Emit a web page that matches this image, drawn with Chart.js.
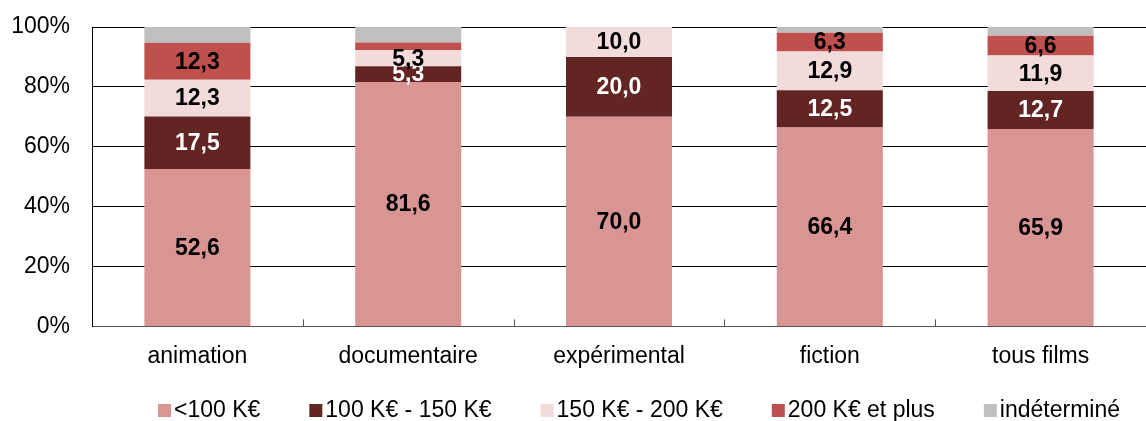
<!DOCTYPE html>
<html lang="fr">
<head>
<meta charset="utf-8">
<title>Répartition par tranche de coût</title>
<script src="https://cdn.jsdelivr.net/npm/chart.js@4/dist/chart.umd.min.js"></script>
<style>
  html, body { margin: 0; padding: 0; background: #fff; }
  #wrap { width: 1146px; height: 421px; }
</style>
</head>
<body>
<div id="wrap"><canvas id="chart" width="1146" height="421"></canvas></div>
<script>
// data (percent of films)
var categories = ['animation', 'documentaire', 'expérimental', 'fiction', 'tous films'];
var seriesNames = ['<100 K€', '100 K€ - 150 K€', '150 K€ - 200 K€', '200 K€ et plus', 'indéterminé'];
var under100 = [52.6, 81.6, 70.0, 66.4, 65.9];
var from100to150 = [17.5, 5.3, 20.0, 12.5, 12.7];
var from150to200 = [12.3, 5.3, 10.0, 12.9, 11.9];
var over200 = [12.3, 2.6, 0, 6.3, 6.6];
var undetermined = [5.3, 5.2, 0, 1.9, 2.9];
var yTicks = [0, 20, 40, 60, 80, 100];

var colors = ['#D99594', '#632523', '#F2DCDB', '#C0504D', '#BFBFBF'];
var labelColors = ['#000', '#fff', '#000', '#000', null];
var FONT = '"Liberation Sans", Arial, sans-serif';

var values = [under100, from100to150, from150to200, over200, undetermined];
var datasets = values.map(function (v, i) {
  return {
    label: seriesNames[i],
    data: v,
    backgroundColor: colors[i],
    borderWidth: 0,
    categoryPercentage: 1,
    barPercentage: 0.503
  };
});

// value labels inside the segments
var valueLabels = {
  id: 'valueLabels',
  afterDatasetsDraw: function (chart) {
    var ctx = chart.ctx;
    ctx.save();
    ctx.font = 'bold 23px ' + FONT;
    ctx.textAlign = 'center';
    ctx.textBaseline = 'middle';
    chart.data.datasets.forEach(function (ds, i) {
      if (!labelColors[i]) return;
      var meta = chart.getDatasetMeta(i);
      meta.data.forEach(function (bar, j) {
        var v = ds.data[j];
        if (v < 5) return;
        ctx.fillStyle = labelColors[i];
        ctx.fillText(v.toFixed(1).replace('.', ','), bar.x, (bar.y + bar.base) / 2 + 1);
      });
    });
    ctx.restore();
  }
};

// small tick marks between categories, pointing up from the axis
var catTicks = {
  id: 'catTicks',
  afterDraw: function (chart) {
    var x = chart.scales.x, area = chart.chartArea, ctx = chart.ctx;
    ctx.save();
    ctx.strokeStyle = '#555';
    ctx.lineWidth = 1;
    for (var i = 1; i < categories.length; i++) {
      var px = Math.round((x.getPixelForValue(i - 1) + x.getPixelForValue(i)) / 2) + 0.5;
      ctx.beginPath();
      ctx.moveTo(px, area.bottom);
      ctx.lineTo(px, area.bottom - 7);
      ctx.stroke();
    }
    ctx.restore();
  }
};

// legend row at the bottom: small square, tight gap, text
var bottomLegend = {
  id: 'bottomLegend',
  afterDraw: function (chart) {
    var ctx = chart.ctx;
    var box = 13, gap = 3, between = 49, y = 410;
    ctx.save();
    ctx.font = '23px ' + FONT;
    ctx.textBaseline = 'middle';
    var widths = seriesNames.map(function (s) { return ctx.measureText(s).width; });
    var total = widths.reduce(function (a, w) { return a + box + gap + w; }, 0) + between * (seriesNames.length - 1);
    var x = Math.round(639 - total / 2);
    seriesNames.forEach(function (s, i) {
      ctx.fillStyle = colors[i];
      ctx.fillRect(x, y - 6, box, box);
      ctx.fillStyle = '#000';
      ctx.fillText(s, x + box + gap, y + 1);
      x += box + gap + widths[i] + between;
    });
    ctx.restore();
  }
};

new Chart(document.getElementById('chart'), {
  type: 'bar',
  data: { labels: categories, datasets: datasets },
  plugins: [valueLabels, catTicks, bottomLegend],
  options: {
    responsive: false,
    animation: false,
    layout: { padding: { top: 27, right: 0, left: 0, bottom: 43 } },
    plugins: {
      tooltip: { enabled: false },
      legend: { display: false }
    },
    scales: {
      x: {
        stacked: true,
        grid: { display: false },
        border: { color: '#555' },
        ticks: { color: '#000', padding: 8, font: { family: FONT, size: 23 } }
      },
      y: {
        stacked: true,
        min: 0,
        max: 100,
        afterFit: function (s) { s.width = 92; s.paddingTop = 0; s.paddingBottom = 0; },
        afterBuildTicks: function (s) { s.ticks = yTicks.map(function (v) { return { value: v }; }); },
        grid: { color: '#000', lineWidth: 1, drawTicks: false },
        border: { color: '#000' },
        ticks: {
          color: '#000',
          padding: 22,
          font: { family: FONT, size: 23 },
          callback: function (v) { return v + '%'; }
        }
      }
    }
  }
});
</script>
</body>
</html>
